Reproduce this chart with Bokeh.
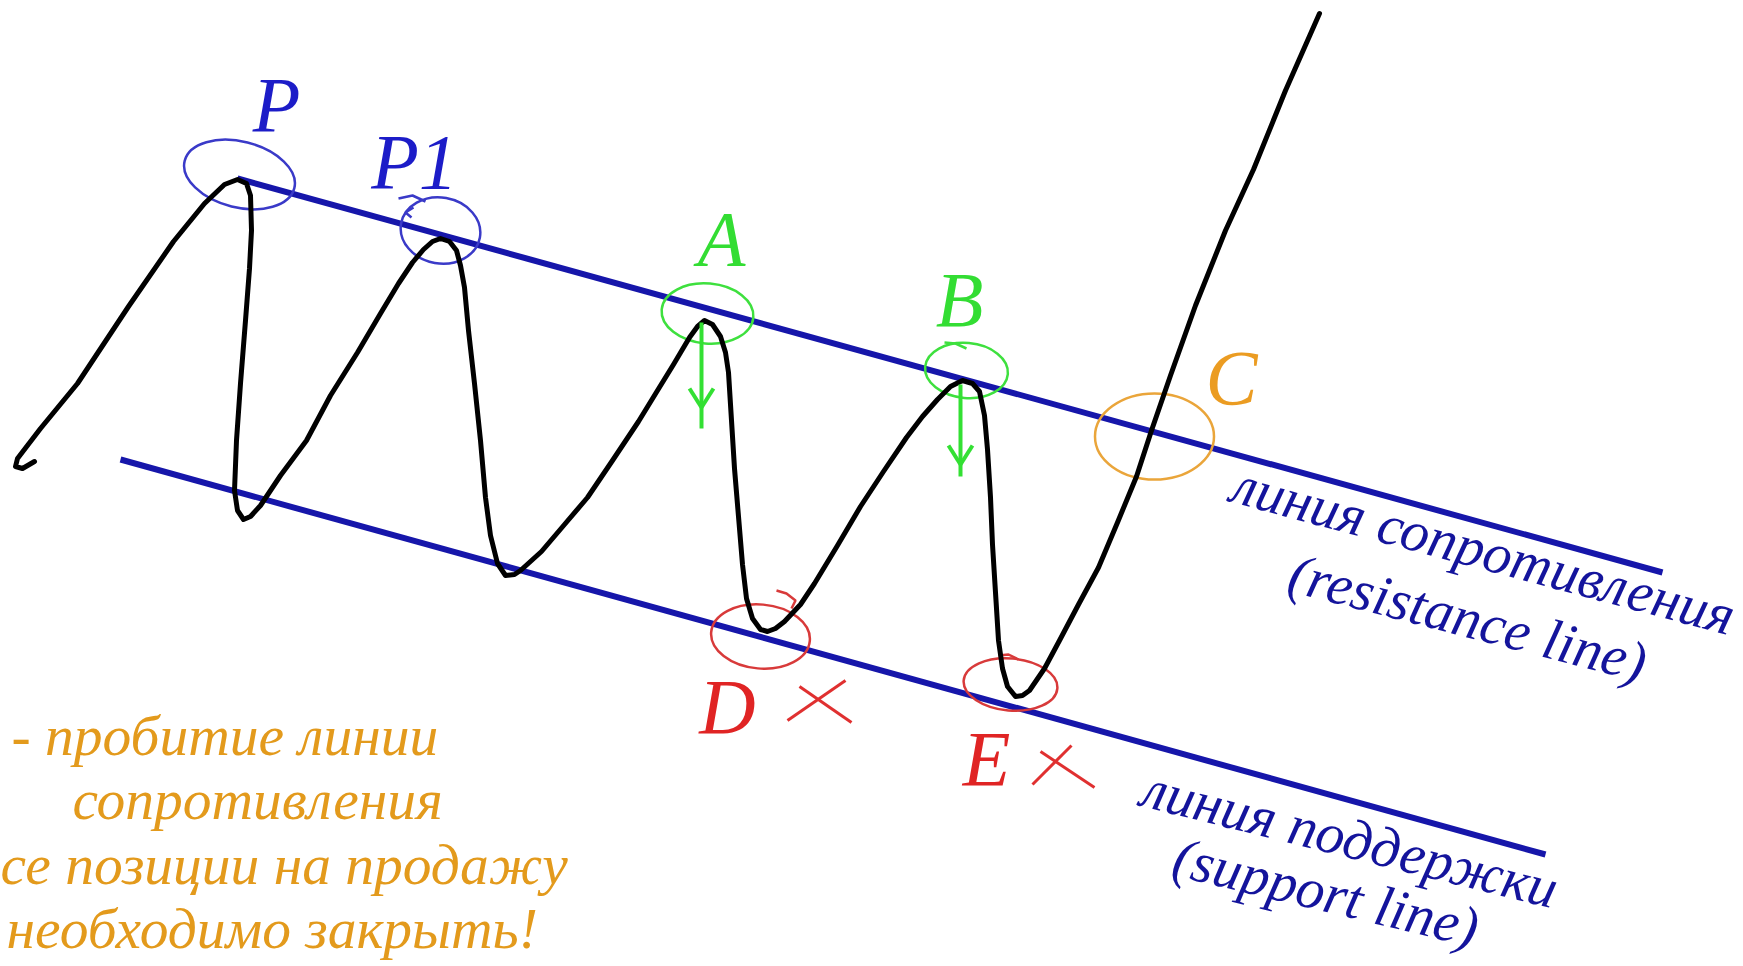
import math
from bokeh.plotting import figure
from bokeh.models import Range1d
from bokeh.core.properties import value
from bokeh.embed import file_html
from bokeh.resources import INLINE

# ---- data (reference pixel coordinates, y grows downward) ----
curve_x = [34, 22, 15, 17, 40, 77, 128, 173, 204, 224, 237, 246, 250, 251, 249, 245, 240, 236, 234, 237, 243, 250,
           260, 280, 306, 330, 357, 380, 398, 412, 423, 432, 440, 449, 456, 460, 464, 468, 474, 480, 485, 490, 497,
           505, 514, 520, 541, 564, 587, 612, 638, 657, 673, 689, 697, 704, 712, 720, 725, 728, 731, 734, 738, 742,
           746, 752, 760, 767, 775, 784, 800, 814, 837, 860, 883, 906, 922, 937, 950, 962, 972, 979, 984, 987, 990,
           992, 995, 998, 1002, 1007, 1015, 1022, 1029, 1044, 1059, 1078, 1098, 1117, 1136, 1151, 1170, 1195, 1225,
           1253, 1285, 1319]
curve_y = [461, 468, 466, 458, 428, 383, 306, 241, 203, 184, 179, 183, 195, 230, 268, 320, 383, 440, 490, 510, 519, 516,
           505, 475, 440, 395, 352, 313, 283, 262, 249, 241, 238, 241, 250, 265, 287, 330, 383, 440, 497, 535, 563,
           575, 574, 570, 551, 524, 497, 460, 421, 390, 364, 337, 326, 320, 324, 336, 352, 372, 420, 468, 516, 564,
           598, 618, 629, 631, 628, 621, 604, 583, 545, 506, 471, 437, 416, 399, 386, 380, 383, 391, 415, 449, 497,
           544, 592, 640, 668, 686, 696, 695, 690, 668, 640, 604, 567, 522, 476, 430, 375, 305, 230, 169, 90, 13]

res_x = [237, 1662]
res_y = [178, 572]
sup_x = [120, 1545]
sup_y = [459, 854]

circ_x = [239, 440, 707, 966, 1154, 760, 1010]
circ_y = [174, 230, 313, 370, 436, 636, 684]
circ_w = [113, 80, 92, 83, 119, 99, 94]
circ_h = [66, 66, 60, 55, 86, 64, 52]
circ_a = [-14, -10, -5, -5, 0, -5, -5]
circ_c = ["#3a3ac8", "#3a3ac8", "#3ee03e", "#3ee03e", "#eaa53a", "#d83a3a", "#d83a3a"]

hook_xs = [[398, 412, 425], [413, 405, 411], [944, 955, 966], [776, 786, 795, 791], [998, 1008, 1018]]
hook_ys = [[198, 195, 201], [207, 212, 217], [342, 343, 348], [590, 593, 600, 608], [655, 654, 659]]
hook_c = ["#3a3ac8", "#3a3ac8", "#3ee03e", "#d83a3a", "#d83a3a"]

let_text = ["P", "P1", "A", "B", "C", "D", "E"]
let_x = [276, 414, 721, 959, 1231, 727, 986]
let_y = [104, 161, 238, 299, 377, 706, 758]
let_c = ["#1c1cc8", "#1c1cc8", "#33dd33", "#33dd33", "#eb9c22", "#e02424", "#e02424"]

arr_x = [701, 960]
arr_top = [322, 384]
arr_bot = [428, 476]
arr_head = [388, 445]
arr_tip = [407, 464]

x_x0 = [787, 799, 1032, 1040]
x_y0 = [720, 686, 784, 751]
x_x1 = [845, 851, 1071, 1094]
x_y1 = [680, 722, 745, 787]

blue_text = ["линия сопротивления", "(resistance line)", "линия поддержки", "(support line)"]
blue_x = [1233, 1290, 1143, 1174]
blue_y = [482, 571, 786, 855]
blue_a = [-15, -14.5, -14, -13.5]

note_text = ["- пробитие линии", "сопротивления", "се позиции на продажу", "необходимо закрыть!"]
note_x = [11, 72, 0, 6]
note_y = [735, 799, 864, 928]

# ---- figure ----
p = figure(width=1743, height=966, x_range=Range1d(0, 1743), y_range=Range1d(966, 0),
           output_backend="svg", toolbar_location=None, min_border=0,
           x_axis_location=None, y_axis_location=None)
p.grid.visible = False
p.outline_line_color = None
p.background_fill_color = "white"
p.border_fill_color = "white"

FONT = value("Liberation Serif")

p.segment(x0=[res_x[0], sup_x[0]], y0=[res_y[0], sup_y[0]], x1=[res_x[1], sup_x[1]], y1=[res_y[1], sup_y[1]],
          line_color="#1616aa", line_width=6)

p.ellipse(x=circ_x, y=circ_y, width=circ_w, height=circ_h, angle=[math.radians(a) for a in circ_a],
          fill_color=None, line_color=circ_c, line_width=2.5)
p.multi_line(xs=hook_xs, ys=hook_ys, line_color=hook_c, line_width=2.5)

p.line(curve_x, curve_y, line_color="black", line_width=5, line_join="round", line_cap="round")

# green arrows
p.segment(x0=arr_x, y0=arr_top, x1=arr_x, y1=arr_bot, line_color="#33e033", line_width=4)
p.segment(x0=[x - 12 for x in arr_x], y0=arr_head, x1=arr_x, y1=arr_tip, line_color="#33e033", line_width=4)
p.segment(x0=[x + 12 for x in arr_x], y0=arr_head, x1=arr_x, y1=arr_tip, line_color="#33e033", line_width=4)

# red crosses
p.segment(x0=x_x0, y0=x_y0, x1=x_x1, y1=x_y1, line_color="#e03030", line_width=3)

p.text(x=let_x, y=let_y, text=let_text, text_color=let_c, text_font=FONT, text_font_style="italic",
       text_font_size="78px", text_align="center", text_baseline="alphabetic")

p.text(x=blue_x, y=blue_y, text=blue_text, angle=[math.radians(a) for a in blue_a], text_color="#14149c",
       text_font=FONT, text_font_style="italic", text_font_size="57px", text_align="left",
       text_baseline="alphabetic")

p.text(x=note_x, y=note_y, text=note_text, text_color="#e39a1c", text_font=FONT, text_font_style="italic",
       text_font_size="57.5px", text_align="left", text_baseline="alphabetic")

open("out.html", "w").write(file_html(p, INLINE))
